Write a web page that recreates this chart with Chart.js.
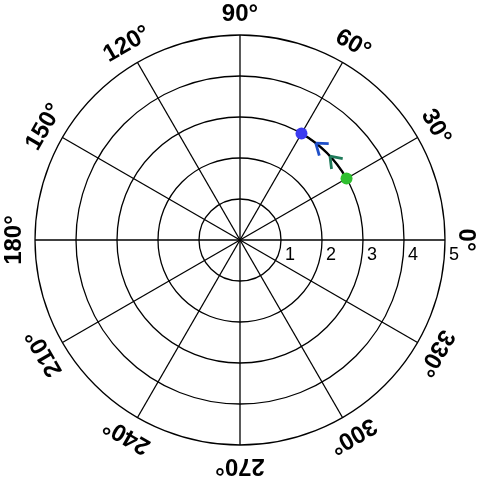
<!DOCTYPE html>
<html>
<head>
<meta charset="utf-8">
<style>
  html, body { margin: 0; padding: 0; background: #fff; }
  #wrap { width: 480px; height: 480px; }
</style>
<script src="https://cdn.jsdelivr.net/npm/chart.js@4.4.1/dist/chart.umd.min.js"></script>
</head>
<body>
<div id="wrap"><canvas id="polar"></canvas></div>
<script>
// angle labels, clockwise from the top (radar order)
const angleLabels = [90, 60, 30, 0, 330, 300, 270, 240, 210, 180, 150, 120];
const radialTicks = [1, 2, 3, 4, 5];

// the two points (degrees, radius)
const pointNames = ["start", "end"];
const pointAngles = [30, 60];
const pointRadii = [3, 3];
const pointColors = ["#2fbf2f", "#3b3bf0"];

// path between them and its arrow heads
const pathRadius = 3;
const pathFrom = 30;
const pathTo = 60;
const arrowAngles = [43, 52];
const arrowColors = ["#1f7a5a", "#1f4fc8"];

const datasets = pointNames.map((name, i) => ({
    label: name,
    data: angleLabels.map(a => a === pointAngles[i] ? pointRadii[i] : null),
    showLine: false,
    pointRadius: 6,
    pointBorderWidth: 0,
    pointBackgroundColor: pointColors[i],
    backgroundColor: pointColors[i]
}));

const rad = d => d * Math.PI / 180;

/* path arc + arrow heads, under the points */
const pathPlugin = {
    id: "path",
    beforeDatasetsDraw(chart) {
        const s = chart.scales.r;
        const ctx = chart.ctx;
        const cx = s.xCenter, cy = s.yCenter;
        const r = s.getDistanceFromCenterForValue(pathRadius);
        ctx.save();
        ctx.strokeStyle = "#000";
        ctx.lineWidth = 2.4;
        ctx.beginPath();
        ctx.arc(cx, cy, r, -rad(pathTo), -rad(pathFrom));
        ctx.stroke();

        arrowAngles.forEach((a, i) => {
            const t = rad(a);
            const px = cx + r * Math.cos(t);
            const py = cy - r * Math.sin(t);
            // back direction (opposite of motion)
            const bx = Math.sin(t), by = Math.cos(t);
            ctx.strokeStyle = arrowColors[i];
            ctx.lineWidth = 2.8;
            ctx.beginPath();
            [-36, 36].forEach(h => {
                const c = Math.cos(rad(h)), sn = Math.sin(rad(h));
                const ax = bx * c - by * sn, ay = bx * sn + by * c;
                ctx.moveTo(px, py);
                ctx.lineTo(px + ax * 13, py + ay * 13);
            });
            ctx.stroke();
        });
        ctx.restore();
    }
};

/* rotated angle labels + radial tick labels */
const labelPlugin = {
    id: "labels",
    afterDraw(chart) {
        const s = chart.scales.r;
        const ctx = chart.ctx;
        ctx.save();
        ctx.fillStyle = "#000";
        ctx.font = "bold 24px 'Liberation Sans', Arial, sans-serif";
        ctx.textAlign = "center";
        ctx.textBaseline = "middle";
        angleLabels.forEach((a, i) => {
            const p = s.getPointPosition(i, s.drawingArea + 21);
            ctx.save();
            ctx.translate(p.x, p.y);
            ctx.rotate(rad(90 - a));
            ctx.fillText(a + "°", 0, 0);
            ctx.restore();
        });

        ctx.font = "18px 'Liberation Sans', Arial, sans-serif";
        ctx.textAlign = "left";
        ctx.textBaseline = "alphabetic";
        radialTicks.forEach(v => {
            const d = s.getDistanceFromCenterForValue(v);
            ctx.fillText(String(v), s.xCenter + d + 4, s.yCenter + 20);
        });
        ctx.restore();
    }
};

new Chart(document.getElementById("polar"), {
    type: "radar",
    data: {
        labels: angleLabels.map(a => a + "°"),
        datasets: datasets
    },
    options: {
        responsive: true,
        maintainAspectRatio: false,
        animation: false,
        layout: { padding: 35 },
        plugins: {
            legend: { display: false },
            tooltip: { enabled: false }
        },
        scales: {
            r: {
                min: 0,
                max: 5,
                ticks: { display: false, stepSize: 1 },
                pointLabels: { display: false },
                grid: { circular: true, color: "#000", lineWidth: 1.3 },
                angleLines: { color: "#000", lineWidth: 1.3 }
            }
        }
    },
    plugins: [pathPlugin, labelPlugin]
});
</script>
</body>
</html>
